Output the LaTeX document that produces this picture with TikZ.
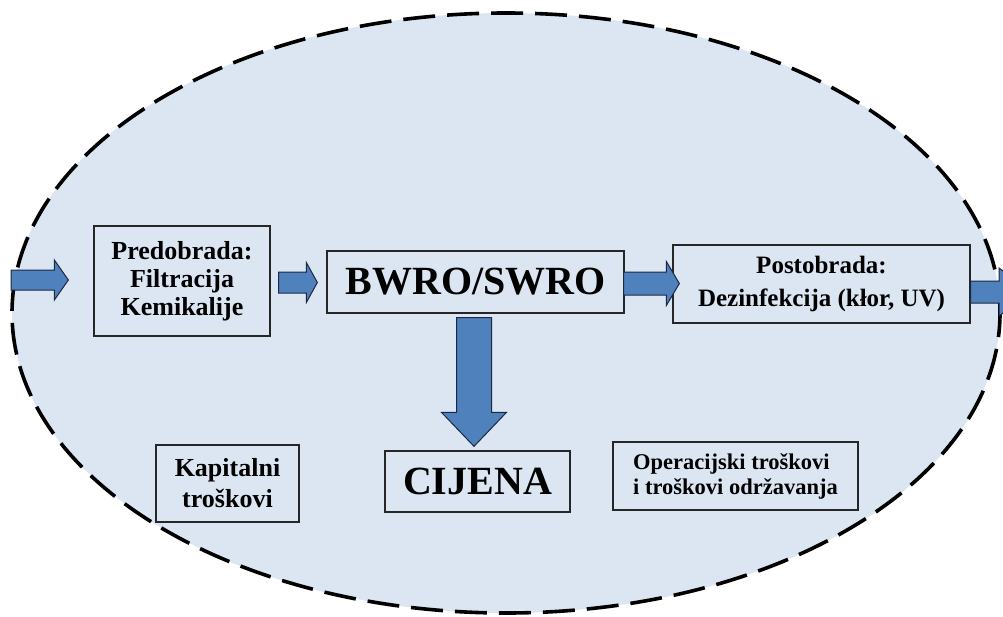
\documentclass[tikz,border=0pt]{standalone}
\usepackage{fontspec}
\setmainfont{Liberation Serif}
\usetikzlibrary{calc}

\definecolor{oval}{HTML}{DCE6F2}
\definecolor{flow}{HTML}{4F81BD}
\definecolor{flowline}{HTML}{1C2740}
\definecolor{boxline}{HTML}{262626}

\tikzset{
  box/.style={draw=boxline, line width=1.3pt, align=center, inner sep=0pt,
    font=\bfseries},
  flowarrow/.style={fill=flow, draw=flowline, line width=1pt, line join=miter},
  oval/.style={fill=oval, draw=black, line width=3.6pt,
    dash pattern=on 32pt off 12pt},
}

% block arrow: from, to, angle, shaft half-width, head half-width, head length
\newcommand\blockarrow[6]{%
  \filldraw[flowarrow] let \p1=(#1), \p2=(#2),
      \n2={veclen(\x2-\x1,\y2-\y1)} in
    [shift={(\p1)}, rotate=#3]
    (0pt,#4) -- ({\n2-#6},#4) -- ({\n2-#6},#5) -- (\n2,0pt)
    -- ({\n2-#6},-#5) -- ({\n2-#6},-#4) -- (0pt,-#4) -- cycle;}

\begin{document}
\begin{tikzpicture}[x=1pt, y=-1pt]
  \useasboundingbox (0,0) rectangle (1003,616);
  \clip (0,0) rectangle (1003,616);

  % dashed oval enclosing the process
  \path[oval] (506,313) ellipse [x radius=494pt, y radius=300pt];

  % process blocks
  \node[box, minimum width=176pt, minimum height=110pt,
        font=\fontsize{26}{28}\selectfont\bfseries] (pre) at (182,281)
        {Predobrada:\\Filtracija\\Kemikalije};
  \node[box, minimum width=297pt, minimum height=62pt,
        font=\fontsize{40}{44}\selectfont\bfseries] (ro) at (475.5,282)
        {BWRO/SWRO};
  \node[box, minimum width=297pt, minimum height=78pt,
        font=\fontsize{25}{33}\selectfont\bfseries] (post) at (821.5,284)
        {Postobrada:\\Dezinfekcija (kłor, UV)};

  % cost blocks
  \node[box, minimum width=143pt, minimum height=77pt,
        font=\fontsize{26}{31}\selectfont\bfseries] (kap) at (227.5,483.5)
        {Kapitalni\\troškovi};
  \node[box, minimum width=185pt, minimum height=61pt,
        font=\fontsize{40}{44}\selectfont\bfseries] (cij) at (477.5,481.5)
        {CIJENA};
  \node[box, minimum width=245pt, minimum height=68pt, align=left,
        font=\fontsize{22.5}{25}\selectfont\bfseries] (op) at (735.5,476)
        {Operacijski troškovi\\i troškovi održavanja};

  % free ends of the inflow and outflow arrows
  \coordinate (inS) at (11,280);
  \coordinate (outE) at (1032,292);

  % flow arrows
  \blockarrow{inS}{$(pre.west)+(-25,-1)$}{0}{10pt}{20pt}{14pt}
  \blockarrow{$(pre.east)+(8,1.5)$}{$(ro.west)+(-9,0.5)$}{0}{10.5pt}{20pt}{11pt}
  \blockarrow{$(ro.east)+(-1,1.5)$}{$(post.west)+(7,-0.5)$}{0}{11.5pt}{22pt}{13pt}
  \blockarrow{$(post.east)+(0,8)$}{outE}{0}{11pt}{24pt}{33pt}
  \blockarrow{$(ro.south)+(-1.5,4)$}{$(ro.south |- cij.north)+(-1.5,-4)$}{-90}{17.5pt}{32.5pt}{34pt}
\end{tikzpicture}
\end{document}
